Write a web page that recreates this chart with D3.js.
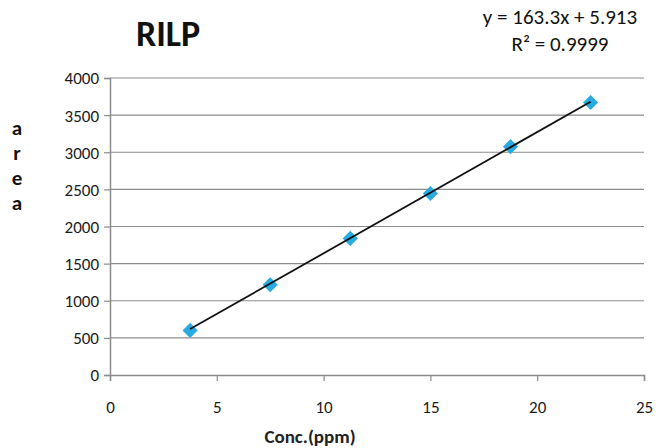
<!DOCTYPE html>
<html><head><meta charset="utf-8">
<script src="https://cdn.jsdelivr.net/npm/d3@7"></script>
<style>body{margin:0;background:#fff}svg{display:block}</style>
</head><body><svg id="c" width="656" height="448"></svg>
<script>
const concX = [3.75, 7.5, 11.25, 15, 18.75, 22.5];
const areaY = [600, 1215, 1840, 2445, 3075, 3670];
const xTicks = [0, 5, 10, 15, 20, 25];
const yTicks = [0, 500, 1000, 1500, 2000, 2500, 3000, 3500, 4000];
const slope = 163.3, intercept = 5.913;
const titleText = "RILP";
const eqLines = ["y = 163.3x + 5.913", "R² = 0.9999"];
const yLabel = ["a", "r", "e", "a"];
const xLabel = "Conc.(ppm)";

const svg = d3.select("#c");
const font = "Carlito, 'Liberation Sans Narrow', 'Open Sans', sans-serif";
const x = d3.scaleLinear().domain([0, 25]).range([110, 644]);
const y = d3.scaleLinear().domain([0, 4000]).range([375, 78]);
const grid = "#8c8c8c";

svg.append("g").selectAll("line").data(yTicks.filter(d => d > 0)).join("line")
  .attr("x1", x(0)).attr("x2", x(25)).attr("y1", d => y(d)).attr("y2", d => y(d))
  .attr("stroke", grid).attr("stroke-width", 1.2);

const ya = svg.append("g").attr("transform", `translate(${x(0)},0)`)
  .call(d3.axisLeft(y).tickValues(yTicks).tickFormat(d3.format("d")).tickSize(6).tickPadding(5));
ya.select(".domain").attr("stroke", grid).attr("stroke-width", 1.5);
ya.selectAll(".tick line").attr("stroke", grid).attr("stroke-width", 1.2);
ya.selectAll("text").attr("font-family", font).attr("font-size", 17).attr("fill", "#1a1a1a").attr("dy", "0.35em");

const xa = svg.append("g").attr("transform", `translate(0,${y(0)})`)
  .call(d3.axisBottom(x).tickValues(xTicks).tickFormat(d3.format("d")).tickSize(6).tickPadding(20));
xa.select(".domain").attr("stroke", grid).attr("stroke-width", 1.5);
xa.selectAll(".tick line").attr("stroke", grid).attr("stroke-width", 1.2);
xa.selectAll("text").attr("font-family", font).attr("font-size", 17).attr("fill", "#1a1a1a");

const lineEnds = [concX[0], concX[concX.length - 1]];
svg.append("g").selectAll("path").data(concX.map((c, i) => [c, areaY[i]])).join("path")
  .attr("d", d3.symbol().type(d3.symbolSquare).size(115))
  .attr("transform", d => `translate(${x(d[0])},${y(d[1])}) rotate(45)`)
  .attr("fill", "#29ABE2");

svg.append("line")
  .attr("x1", x(lineEnds[0])).attr("y1", y(slope * lineEnds[0] + intercept))
  .attr("x2", x(lineEnds[1])).attr("y2", y(slope * lineEnds[1] + intercept))
  .attr("stroke", "#111").attr("stroke-width", 1.8);

svg.append("text").attr("x", 168).attr("y", 46).attr("text-anchor", "middle")
  .attr("font-family", font).attr("font-weight", "bold").attr("font-size", 36).attr("fill", "#111")
  .text(titleText);

svg.selectAll(".eq").data(eqLines).join("text").attr("class", "eq")
  .attr("x", 560).attr("y", (d, i) => 24 + i * 27).attr("text-anchor", "middle")
  .attr("font-family", font).attr("font-size", 21).attr("fill", "#111").text(d => d);

svg.selectAll(".yl").data(yLabel).join("text").attr("class", "yl")
  .attr("x", 17).attr("y", (d, i) => 135 + i * 25).attr("text-anchor", "middle")
  .attr("font-family", font).attr("font-weight", "bold").attr("font-size", 21).attr("fill", "#111").text(d => d);

svg.append("text").attr("x", 310).attr("y", 443).attr("text-anchor", "middle")
  .attr("font-family", "'Liberation Sans Narrow', " + font).attr("font-weight", "bold").attr("font-size", 19).attr("fill", "#222")
  .text(xLabel);
</script></body></html>
